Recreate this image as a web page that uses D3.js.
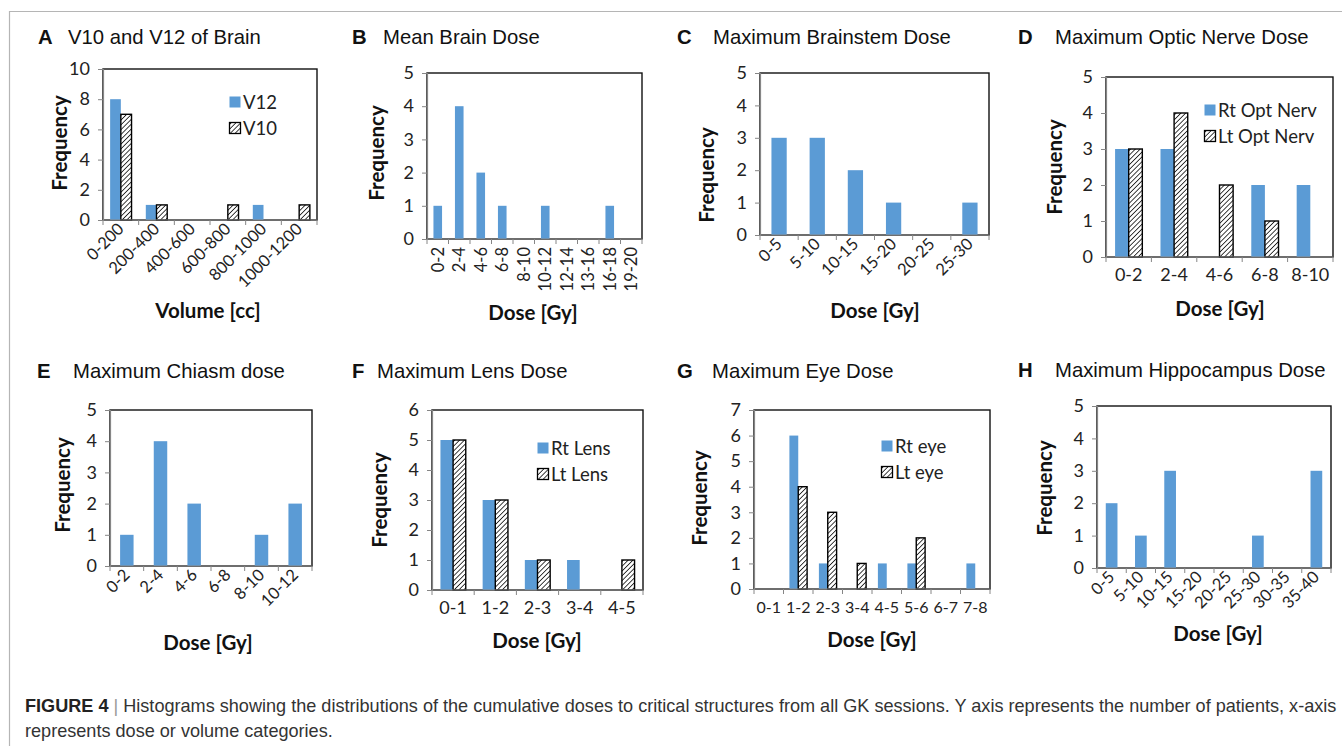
<!DOCTYPE html>
<html lang="en">
<head>
<meta charset="utf-8">
<title>Figure 4</title>
<script src="https://d3js.org/d3.v7.min.js"></script>
<style>
  body { margin: 0; background: #fff; }
  svg { display: block; }
  .ttl { font-family: "Liberation Sans", Arial, sans-serif; font-size: 20.3px; fill: #111; }
  .tick text { font-family: Lato, sans-serif; fill: #222; }
  .axlab { font-family: Lato, sans-serif; font-weight: bold; font-size: 20.5px; fill: #111; }
  .leg { font-family: Lato, sans-serif; font-size: 18.5px; fill: #222; }
  .cap { font-family: "Liberation Sans", Arial, sans-serif; font-size: 18.1px; fill: #333; }
</style>
</head>
<body>
<div class="chart"></div>
<script>
// ---- data ----
var catsA = ["0-200", "200-400", "400-600", "600-800", "800-1000", "1000-1200"];
var v12 = [8, 1, 0, 0, 1, 0];
var v10 = [7, 1, 0, 1, 0, 1];

var catsB = ["0-2", "2-4", "4-6", "6-8", "8-10", "10-12", "12-14", "13-16", "16-18", "19-20"];
var meanBrain = [1, 4, 2, 1, 0, 1, 0, 0, 1, 0];

var catsC = ["0-5", "5-10", "10-15", "15-20", "20-25", "25-30"];
var brainstem = [3, 3, 2, 1, 0, 1];

var catsD = ["0-2", "2-4", "4-6", "6-8", "8-10"];
var rtOptNerv = [3, 3, 0, 2, 2];
var ltOptNerv = [3, 4, 2, 1, 0];

var catsE = ["0-2", "2-4", "4-6", "6-8", "8-10", "10-12"];
var chiasm = [1, 4, 2, 0, 1, 2];

var catsF = ["0-1", "1-2", "2-3", "3-4", "4-5"];
var rtLens = [5, 3, 1, 1, 0];
var ltLens = [5, 3, 1, 0, 1];

var catsG = ["0-1", "1-2", "2-3", "3-4", "4-5", "5-6", "6-7", "7-8"];
var rtEye = [0, 6, 1, 0, 1, 1, 0, 1];
var ltEye = [0, 4, 3, 1, 0, 2, 0, 0];

var catsH = ["0-5", "5-10", "10-15", "15-20", "20-25", "25-30", "30-35", "35-40"];
var hippo = [2, 1, 3, 0, 0, 1, 0, 3];

var yTicksA = [0, 2, 4, 6, 8, 10];
var yTicks5 = [0, 1, 2, 3, 4, 5];
var yTicks6 = [0, 1, 2, 3, 4, 5, 6];
var yTicks7 = [0, 1, 2, 3, 4, 5, 6, 7];

var captionBold = "FIGURE 4";
var captionLine1 = "Histograms showing the distributions of the cumulative doses to critical structures from all GK sessions. Y axis represents the number of patients, x-axis";
var captionLine2 = "represents dose or volume categories.";

// ---- layout ----
var W = 1342, H = 746;
var blue = "#5b9bd5";

var svg = d3.select(".chart").append("svg")
    .attr("width", W).attr("height", H);

var defs = svg.append("defs");
defs.append("pattern")
    .attr("id", "hatch")
    .attr("patternUnits", "userSpaceOnUse")
    .attr("width", 3.4).attr("height", 3.4)
    .attr("patternTransform", "rotate(45)")
    .call(function(p) {
        p.append("rect").attr("width", 3.4).attr("height", 3.4).attr("fill", "#fff");
        p.append("line").attr("x1", 0).attr("y1", 0).attr("x2", 0).attr("y2", 3.4)
            .attr("stroke", "#000").attr("stroke-width", 1.5);
    });

// figure frame
svg.append("path")
    .attr("d", "M9.5," + H + "V11.5H" + W)
    .attr("fill", "none").attr("stroke", "#b5b5b5").attr("stroke-width", 1.2);

var panels = [
    {letter: "A", title: "V10 and V12 of Brain", lx: 38, tx: 68, ty: 44,
     box: [103, 69, 317, 220], cats: catsA, series: [v12, v10], names: ["V12", "V10"],
     yTicks: yTicksA, rot: -45, xlab: "Volume [cc]", xl: [208, 318], fq: [60, 143],
     legend: [235, 102]},
    {letter: "B", title: "Mean Brain Dose", lx: 352, tx: 383, ty: 44,
     box: [427, 73, 642, 239], cats: catsB, series: [meanBrain],
     yTicks: yTicks5, rot: -90, xlab: "Dose [Gy]", xl: [533, 320], fq: [377, 153]},
    {letter: "C", title: "Maximum Brainstem Dose", lx: 677, tx: 713, ty: 44,
     box: [760, 73, 989, 235], cats: catsC, series: [brainstem],
     yTicks: yTicks5, rot: -45, xlab: "Dose [Gy]", xl: [875, 318], fq: [707, 175]},
    {letter: "D", title: "Maximum Optic Nerve Dose", lx: 1018, tx: 1055, ty: 44,
     box: [1106, 77, 1333, 257], cats: catsD, series: [rtOptNerv, ltOptNerv], names: ["Rt Opt Nerv", "Lt Opt Nerv"],
     yTicks: yTicks5, rot: 0, labSize: 18, xlab: "Dose [Gy]", xl: [1220, 316], fq: [1055, 167],
     legend: [1210, 110]},
    {letter: "E", title: "Maximum Chiasm dose", lx: 37, tx: 73, ty: 378,
     box: [110, 410, 312, 566], cats: catsE, series: [chiasm],
     yTicks: yTicks5, rot: -45, xlab: "Dose [Gy]", xl: [208, 650], fq: [63, 485]},
    {letter: "F", title: "Maximum Lens Dose", lx: 352, tx: 377, ty: 378,
     box: [432, 410, 643, 590], cats: catsF, series: [rtLens, ltLens], names: ["Rt Lens", "Lt Lens"],
     yTicks: yTicks6, rot: 0, labSize: 18, xlab: "Dose [Gy]", xl: [537, 648], fq: [380, 500],
     legend: [543, 448]},
    {letter: "G", title: "Maximum Eye Dose", lx: 677, tx: 712, ty: 378,
     box: [754, 410, 990, 589], cats: catsG, series: [rtEye, ltEye], names: ["Rt eye", "Lt eye"],
     yTicks: yTicks7, rot: 0, labSize: 16, xlab: "Dose [Gy]", xl: [872, 647], fq: [700, 498],
     legend: [887, 446]},
    {letter: "H", title: "Maximum Hippocampus Dose", lx: 1018, tx: 1055, ty: 377,
     box: [1097, 406, 1331, 568], cats: catsH, series: [hippo],
     yTicks: yTicks5, rot: -45, xlab: "Dose [Gy]", xl: [1218, 641], fq: [1045, 488]}
];

panels.forEach(drawPanel);

function drawPanel(p) {
    var g = svg.append("g");
    var x0 = p.box[0], y0 = p.box[1], x1 = p.box[2], y1 = p.box[3];

    // title
    g.append("text").attr("class", "ttl").attr("x", p.lx).attr("y", p.ty)
        .style("font-weight", "bold").text(p.letter);
    g.append("text").attr("class", "ttl").attr("x", p.tx).attr("y", p.ty).text(p.title);

    var xScale = d3.scaleBand().domain(p.cats).range([x0, x1]);
    var yScale = d3.scaleLinear()
        .domain([0, p.yTicks[p.yTicks.length - 1]])
        .range([y1, y0]);

    var nS = p.series.length;
    var ratio = nS == 1 ? 0.4 : 0.6;
    var inner = d3.scaleBand().domain(d3.range(nS))
        .range([0, xScale.bandwidth()])
        .paddingOuter((nS / ratio - nS) / 2);

    // plot area frame
    g.append("rect")
        .attr("x", x0).attr("y", y0)
        .attr("width", x1 - x0).attr("height", y1 - y0)
        .attr("fill", "none").attr("stroke", "#111").attr("stroke-width", 1.4);

    // bars
    p.series.forEach(function(vals, si) {
        var rows = p.cats.map(function(c, i) { return {cat: c, v: vals[i]}; })
            .filter(function(d) { return d.v > 0; });
        g.selectAll(".bar" + si)
            .data(rows)
            .enter().append("rect")
            .attr("x", function(d) { return xScale(d.cat) + inner(si); })
            .attr("y", function(d) { return yScale(d.v); })
            .attr("width", inner.bandwidth())
            .attr("height", function(d) { return yScale(0) - yScale(d.v); })
            .attr("fill", si == 0 ? blue : "url(#hatch)")
            .attr("stroke", si == 0 ? "none" : "#000")
            .attr("stroke-width", 1.4);
    });

    // y axis
    var yAxis = g.append("g")
        .attr("transform", "translate(" + x0 + ",0)")
        .call(d3.axisLeft(yScale).tickValues(p.yTicks).tickSize(5).tickPadding(8).tickFormat(d3.format("d")));
    yAxis.select(".domain").attr("stroke", "#868686").attr("stroke-width", 1.2);
    yAxis.selectAll(".tick line").attr("stroke", "#868686");
    yAxis.selectAll(".tick text").style("font-size", "18px");

    // x axis: ticks at band edges
    var edges = p.cats.map(function(c) { return xScale(c); }).concat([x1]);
    var xAxis = g.append("g").attr("transform", "translate(0," + y1 + ")");
    xAxis.append("line").attr("x1", x0).attr("x2", x1)
        .attr("stroke", "#868686").attr("stroke-width", 1.2);
    xAxis.selectAll(".edge").data(edges).enter().append("line")
        .attr("x1", function(d) { return d; }).attr("x2", function(d) { return d; })
        .attr("y1", 0).attr("y2", 5)
        .attr("stroke", "#868686");

    var lab = xAxis.selectAll(".tick").data(p.cats).enter().append("g")
        .attr("class", "tick")
        .attr("transform", function(d) {
            return "translate(" + (xScale(d) + xScale.bandwidth() / 2) + ",0)";
        })
        .append("text")
        .text(function(d) { return d; });
    if (p.rot == 0) {
        lab.attr("text-anchor", "middle").attr("y", 24).style("font-size", p.labSize + "px");
    } else if (p.rot == -90) {
        lab.attr("text-anchor", "end").attr("dy", "0.35em").style("font-size", "16.5px")
            .attr("transform", "translate(0,8) rotate(-90)");
    } else {
        lab.attr("text-anchor", "end").style("font-size", "16.5px")
            .attr("transform", "translate(4,10) rotate(-45)");
    }

    // axis titles
    g.append("text").attr("class", "axlab")
        .attr("x", p.xl[0]).attr("y", p.xl[1])
        .attr("text-anchor", "middle").text(p.xlab);
    g.append("text").attr("class", "axlab")
        .attr("text-anchor", "middle").attr("dy", "0.35em")
        .attr("transform", "translate(" + p.fq[0] + "," + p.fq[1] + ") rotate(-90)")
        .text("Frequency");

    // legend
    if (p.legend) {
        var lg = g.append("g").attr("transform", "translate(" + p.legend[0] + "," + p.legend[1] + ")");
        p.names.forEach(function(n, i) {
            var row = lg.append("g").attr("transform", "translate(0," + (i * 26) + ")");
            row.append("rect")
                .attr("x", -5.5).attr("y", -5.5).attr("width", 11).attr("height", 11)
                .attr("fill", i == 0 ? blue : "url(#hatch)")
                .attr("stroke", i == 0 ? "none" : "#000").attr("stroke-width", 1.3);
            row.append("text").attr("class", "leg")
                .attr("x", 8).attr("dy", "0.36em").text(n);
        });
    }
}

// caption
var cap = svg.append("text").attr("class", "cap").attr("x", 25).attr("y", 712);
cap.append("tspan").style("font-weight", "bold").attr("fill", "#222").text(captionBold);
cap.append("tspan").attr("fill", "#999").text(" | ");
cap.append("tspan").text(captionLine1);
svg.append("text").attr("class", "cap").attr("x", 25).attr("y", 737).text(captionLine2);
</script>
</body>
</html>
